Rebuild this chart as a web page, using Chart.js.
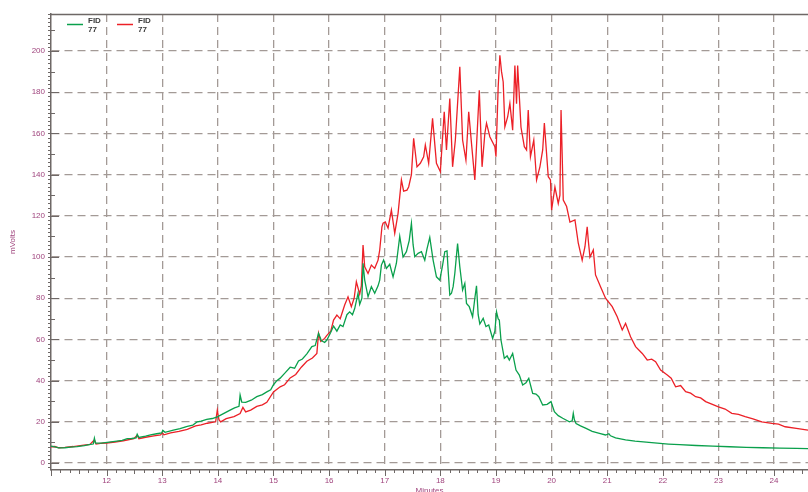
<!DOCTYPE html>
<html>
<head>
<meta charset="utf-8">
<script src="https://cdn.jsdelivr.net/npm/chart.js@4/dist/chart.umd.min.js"></script>
<style>
  html, body { margin: 0; padding: 0; background: #ffffff; overflow: hidden; }
  #wrap { width: 808px; height: 492px; overflow: hidden; position: relative; }
  #c { display: block; }
</style>
</head>
<body>
<div id="wrap"><canvas id="c" width="808" height="496"></canvas></div>
<script>
// Axis tick values
const xTicks = [12, 13, 14, 15, 16, 17, 18, 19, 20, 21, 22, 23, 24];
const yTicks = [0, 20, 40, 60, 80, 100, 120, 140, 160, 180, 200];

// Detector trace 1 (green): retention time in minutes, signal in mV
const greenMinutes = [
  11.00, 11.07, 11.14, 11.25, 11.35, 11.47, 11.60, 11.71, 11.76, 11.78, 11.80, 11.90,
  12.01, 12.15, 12.28, 12.37, 12.45, 12.53, 12.55, 12.58, 12.70, 12.79, 12.90, 12.99,
  13.01, 13.05, 13.20, 13.32, 13.45, 13.55, 13.63, 13.70, 13.80, 13.90, 13.99, 14.10,
  14.22, 14.30, 14.38, 14.40, 14.43, 14.50, 14.60, 14.70, 14.80, 14.88, 14.95, 15.00,
  15.06, 15.12, 15.20, 15.30, 15.38, 15.45, 15.52, 15.60, 15.69, 15.75, 15.81, 15.86,
  15.92, 15.96, 16.03, 16.08, 16.14, 16.20, 16.25, 16.32, 16.37, 16.42, 16.46, 16.52,
  16.55, 16.59, 16.61, 16.64, 16.70, 16.76, 16.82, 16.88, 16.91, 16.94, 16.98, 17.03,
  17.09, 17.15, 17.21, 17.27, 17.30, 17.33, 17.39, 17.44, 17.48, 17.51, 17.54, 17.60,
  17.66, 17.72, 17.76, 17.81, 17.87, 17.93, 17.99, 18.04, 18.08, 18.12, 18.14, 18.17,
  18.20, 18.23, 18.26, 18.31, 18.35, 18.40, 18.44, 18.47, 18.52, 18.58, 18.62, 18.65,
  18.68, 18.71, 18.77, 18.82, 18.87, 18.94, 18.98, 19.01, 19.04, 19.06, 19.09, 19.15,
  19.20, 19.24, 19.30, 19.36, 19.42, 19.48, 19.54, 19.59, 19.66, 19.72, 19.77, 19.84,
  19.92, 19.99, 20.05, 20.12, 20.20, 20.32, 20.37, 20.39, 20.41, 20.44, 20.52, 20.62,
  20.73, 20.86, 20.97, 21.03, 21.06, 21.15, 21.33, 21.50, 21.70, 21.90, 22.10, 22.30,
  22.60, 22.90, 23.20, 23.50, 23.80, 24.10, 24.40, 24.61
];
const greenMv = [
  8.2, 7.8, 7.3, 7.4, 7.7, 7.9, 8.4, 9.0, 9.2, 12.0, 9.6, 9.6,
  10.0, 10.5, 11.0, 11.8, 11.9, 12.2, 14.0, 12.4, 13.0, 13.6, 14.2, 14.6,
  15.9, 14.9, 16.0, 16.7, 17.8, 18.4, 20.0, 20.3, 21.2, 21.6, 22.4, 24.0,
  25.7, 26.8, 27.5, 33.0, 29.5, 29.4, 30.5, 32.2, 33.2, 34.5, 35.5, 38.0,
  40.0, 41.2, 43.5, 46.5, 46.0, 49.5, 50.5, 53.0, 56.5, 57.0, 63.0, 59.5,
  58.5, 59.7, 63.5, 66.5, 64.0, 67.0, 66.2, 72.0, 73.4, 72.0, 75.0, 82.4,
  77.0, 80.0, 97.0, 88.8, 80.7, 85.6, 82.4, 86.0, 88.8, 96.1, 98.5, 94.5,
  96.5, 90.4, 97.0, 110.0, 105.0, 100.0, 102.6, 108.0, 116.4, 106.0, 100.2, 101.8,
  102.6, 98.5, 104.0, 109.5, 98.5, 90.4, 88.8, 96.0, 102.6, 103.0, 93.7, 81.6,
  82.4, 85.6, 92.0, 106.6, 95.3, 84.0, 87.2, 77.5, 75.9, 71.0, 80.0, 86.0,
  72.0, 67.5, 70.2, 66.2, 67.0, 60.5, 64.0, 73.4, 70.0, 69.4, 59.7, 50.8,
  52.0, 50.0, 53.2, 45.1, 42.7, 37.9, 39.0, 41.1, 33.8, 33.5, 32.2, 28.2,
  28.5, 29.8, 24.9, 23.0, 21.7, 20.0, 20.5, 24.1, 21.0, 19.2, 18.0, 16.8,
  15.4, 14.4, 13.6, 14.2, 13.2, 12.2, 11.2, 10.6, 10.1, 9.6, 9.2, 8.9,
  8.5, 8.2, 7.9, 7.6, 7.4, 7.2, 7.1, 7.0
];

// Detector trace 2 (red): retention time in minutes, signal in mV
const redMinutes = [
  11.00, 11.07, 11.14, 11.25, 11.40, 11.59, 11.70, 11.78, 11.81, 11.89, 12.00, 12.15,
  12.30, 12.49, 12.55, 12.58, 12.70, 12.85, 12.97, 13.00, 13.03, 13.15, 13.30, 13.45,
  13.60, 13.70, 13.81, 13.96, 13.99, 14.02, 14.05, 14.15, 14.29, 14.40, 14.45, 14.50,
  14.59, 14.70, 14.80, 14.88, 15.00, 15.12, 15.20, 15.30, 15.40, 15.50, 15.60, 15.70,
  15.78, 15.81, 15.85, 15.92, 15.96, 16.03, 16.08, 16.14, 16.20, 16.28, 16.34, 16.40,
  16.45, 16.49, 16.55, 16.58, 16.61, 16.64, 16.70, 16.76, 16.82, 16.88, 16.91, 16.95,
  16.97, 17.01, 17.06, 17.12, 17.18, 17.24, 17.30, 17.34, 17.40, 17.43, 17.48, 17.52,
  17.58, 17.64, 17.70, 17.73, 17.79, 17.86, 17.93, 18.00, 18.07, 18.11, 18.17, 18.22,
  18.27, 18.35, 18.40, 18.46, 18.51, 18.56, 18.62, 18.70, 18.75, 18.80, 18.83, 18.89,
  18.98, 19.00, 19.04, 19.07, 19.10, 19.13, 19.16, 19.21, 19.25, 19.30, 19.34, 19.37,
  19.39, 19.45, 19.51, 19.55, 19.58, 19.62, 19.68, 19.73, 19.79, 19.84, 19.87, 19.94,
  19.98, 20.00, 20.06, 20.12, 20.15, 20.17, 20.19, 20.21, 20.27, 20.33, 20.42, 20.48,
  20.55, 20.60, 20.64, 20.66, 20.69, 20.75, 20.79, 20.88, 20.97, 21.09, 21.18, 21.27,
  21.33, 21.42, 21.51, 21.63, 21.72, 21.80, 21.87, 21.96, 22.08, 22.15, 22.23, 22.32,
  22.41, 22.50, 22.59, 22.68, 22.77, 22.88, 23.00, 23.12, 23.24, 23.36, 23.48, 23.62,
  23.78, 23.96, 24.08, 24.20, 24.40, 24.61
];
const redMv = [
  7.9, 8.0, 7.4, 7.6, 8.0, 8.7, 9.0, 11.2, 9.2, 9.5, 9.7, 10.2,
  10.8, 11.8, 13.5, 11.8, 12.5, 13.2, 13.6, 14.6, 13.7, 14.6, 15.4, 16.3,
  18.0, 18.5, 19.3, 20.0, 25.7, 21.0, 20.0, 21.5, 22.5, 24.0, 27.0, 24.8,
  25.7, 27.5, 28.2, 29.5, 34.5, 37.0, 38.0, 41.3, 43.0, 46.5, 49.4, 51.0,
  53.2, 63.0, 59.0, 60.5, 62.0, 64.0, 69.4, 71.8, 70.0, 76.7, 80.7, 75.9,
  80.0, 88.0, 82.0, 86.0, 105.8, 95.3, 92.0, 96.1, 94.5, 98.5, 103.4, 114.7,
  116.4, 117.0, 114.0, 122.8, 111.5, 121.2, 137.4, 132.0, 132.5, 134.0, 140.0, 157.6,
  143.8, 145.5, 148.7, 154.4, 145.5, 167.3, 145.5, 141.4, 170.5, 152.0, 177.0, 143.8,
  156.8, 192.4, 156.8, 147.0, 170.5, 155.2, 137.4, 181.0, 143.8, 160.0, 165.0, 158.4,
  153.6, 148.7, 182.7, 198.0, 190.0, 185.0, 163.2, 168.0, 174.6, 161.6, 193.0, 174.4,
  193.0, 163.0, 153.6, 152.0, 171.4, 148.7, 156.8, 137.4, 143.8, 152.0, 165.0, 139.0,
  137.4, 122.8, 134.0, 126.0, 130.0, 171.4, 150.0, 127.7, 124.5, 117.0, 118.0, 106.7,
  98.5, 105.0, 114.7, 108.0, 100.0, 103.4, 91.3, 85.6, 80.0, 75.9, 71.0, 64.6,
  67.8, 61.3, 56.5, 53.2, 50.0, 50.4, 49.2, 45.1, 42.7, 41.2, 37.0, 37.6,
  34.6, 33.9, 32.2, 31.6, 29.8, 28.6, 27.3, 26.2, 24.1, 23.6, 22.5, 21.4,
  20.0, 19.2, 18.9, 17.6, 16.8, 16.0
];

// Legend text for each trace (two lines)
const traceLabels = [['FID', '77'], ['FID', '77']];

const labelColor = '#a0457e';
const gridColor = '#a39a96';
const axisColor = '#6e6866';
const tickFont = { family: "'Liberation Sans', Arial, sans-serif", size: 8 };

function toPoints(xs, ys) {
  return xs.map((x, i) => ({ x: x, y: ys[i] }));
}

// Minor ticks, inner major ticks, top frame line and the in-plot legend
const decorations = {
  id: 'decorations',
  afterDraw(chart) {
    const { ctx, chartArea } = chart;
    const xs = chart.scales.x;
    const ys = chart.scales.y;
    ctx.save();
    ctx.strokeStyle = axisColor;
    // top frame line
    ctx.lineWidth = 1.5;
    ctx.beginPath();
    ctx.moveTo(chartArea.left, chartArea.top + 0.5);
    ctx.lineTo(chartArea.right, chartArea.top + 0.5);
    ctx.stroke();
    ctx.lineWidth = 1;
    // x minor ticks every 10 s, below the axis
    ctx.beginPath();
    for (let k = Math.ceil(xs.min * 6); k <= Math.floor(xs.max * 6); k++) {
      const px = Math.round(xs.getPixelForValue(k / 6)) + 0.5;
      const len = (k % 6 === 0) ? 6 : (k % 3 === 0 ? 4 : 3);
      ctx.moveTo(px, chartArea.bottom);
      ctx.lineTo(px, chartArea.bottom + len);
    }
    ctx.stroke();
    // y minor ticks every 2 mV, left of the axis
    ctx.beginPath();
    for (let v = Math.ceil(ys.min / 2) * 2; v <= ys.max; v += 2) {
      const py = Math.round(ys.getPixelForValue(v)) + 0.5;
      ctx.moveTo(chartArea.left - 3, py);
      ctx.lineTo(chartArea.left, py);
    }
    ctx.stroke();
    // y major ticks pointing into the plot
    ctx.beginPath();
    for (let v = 0; v <= ys.max; v += 10) {
      const py = Math.round(ys.getPixelForValue(v)) + 0.5;
      const len = (v % 20 === 0) ? 8 : 4;
      ctx.moveTo(chartArea.left, py);
      ctx.lineTo(chartArea.left + len, py);
    }
    ctx.stroke();
    // legend
    chart.data.datasets.forEach((ds, i) => {
      const x0 = chartArea.left + 16 + i * 50;
      const yLine = chartArea.top + 10.5;
      ctx.strokeStyle = ds.borderColor;
      ctx.lineWidth = 1.5;
      ctx.beginPath();
      ctx.moveTo(x0, yLine);
      ctx.lineTo(x0 + 16, yLine);
      ctx.stroke();
      ctx.fillStyle = '#3a3a3a';
      ctx.font = "bold 8px 'Liberation Sans', Arial, sans-serif";
      ctx.textAlign = 'left';
      ctx.textBaseline = 'middle';
      const lines = traceLabels[i];
      ctx.fillText(lines[0], x0 + 21, chartArea.top + 7);
      ctx.fillText(lines[1], x0 + 21, chartArea.top + 16);
    });
    ctx.restore();
  }
};

new Chart(document.getElementById('c'), {
  type: 'line',
  data: {
    datasets: [
      {
        label: traceLabels[0].join(' '),
        data: toPoints(greenMinutes, greenMv),
        borderColor: '#0aa04c',
        borderWidth: 1.3,
        pointRadius: 0,
        tension: 0,
        fill: false
      },
      {
        label: traceLabels[1].join(' '),
        data: toPoints(redMinutes, redMv),
        borderColor: '#ec2027',
        borderWidth: 1.3,
        pointRadius: 0,
        tension: 0,
        fill: false
      }
    ]
  },
  options: {
    responsive: false,
    animation: false,
    devicePixelRatio: 1,
    layout: { padding: { top: 14, left: 0, right: 0, bottom: 0 } },
    plugins: { legend: { display: false }, tooltip: { enabled: false } },
    scales: {
      x: {
        type: 'linear',
        min: 11.0,
        max: 24.61,
        afterBuildTicks: s => { s.ticks = xTicks.map(v => ({ value: v })); },
        afterFit: s => { s.height = 26; },
        ticks: { color: labelColor, font: tickFont, padding: 6, maxRotation: 0, autoSkip: false },
        grid: { color: gridColor, lineWidth: 1.3, drawTicks: false },
        border: { display: true, color: axisColor, width: 1.5, dash: [8, 5] },
        title: { display: true, text: 'Minutes', color: labelColor, font: tickFont, padding: { top: 2, bottom: 0 } }
      },
      y: {
        type: 'linear',
        min: -3.4,
        max: 218,
        afterBuildTicks: s => { s.ticks = yTicks.map(v => ({ value: v })); },
        afterFit: s => { s.width = 51; },
        ticks: { color: labelColor, font: tickFont, padding: 6 },
        grid: { color: gridColor, lineWidth: 1.3, drawTicks: false },
        border: { display: true, color: axisColor, width: 1.5, dash: [8, 5] },
        title: { display: true, text: 'mVolts', color: labelColor, font: tickFont, padding: { top: 8, bottom: 0 } }
      }
    }
  },
  plugins: [decorations]
});
</script>
</body>
</html>
